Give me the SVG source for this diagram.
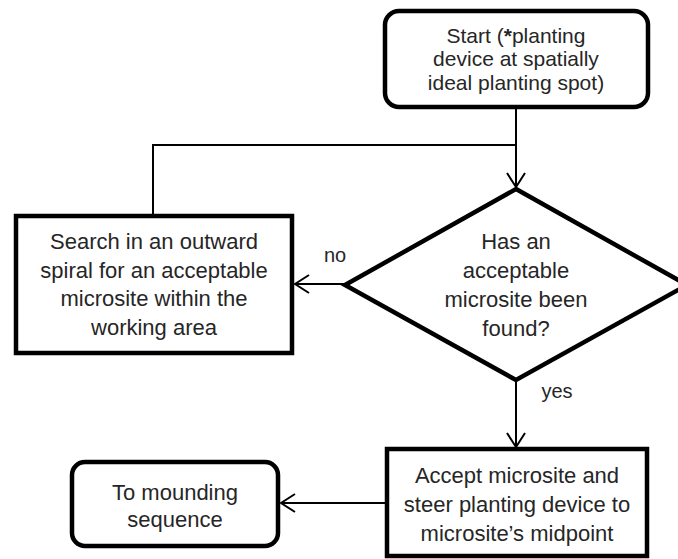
<svg xmlns="http://www.w3.org/2000/svg" width="678" height="559" viewBox="0 0 678 559">
<defs>
<style>
.box{fill:#fff;stroke:#000;stroke-width:4.5}
.conn{fill:none;stroke:#000;stroke-width:2}
text{font-family:"Liberation Sans",Arial,sans-serif;font-size:22px;fill:#262626;text-anchor:middle}
.lbl{font-size:20px}
.sm{font-size:21px}
</style>
<marker id="arr" viewBox="0 0 16 20" refX="15" refY="10" markerWidth="16" markerHeight="20" markerUnits="userSpaceOnUse" orient="auto">
<path d="M1,1 L15,10 L1,19" fill="none" stroke="#000" stroke-width="2"/>
</marker>
</defs>
<rect width="678" height="559" fill="#fff"/>
<g id="connectors">
<line class="conn" x1="516" y1="107" x2="516" y2="187" marker-end="url(#arr)"/>
<polyline class="conn" points="516,145 153,145 153,214"/>
<line class="conn" x1="345" y1="284" x2="295" y2="284" marker-end="url(#arr)"/>
<line class="conn" x1="516" y1="380" x2="516" y2="447" marker-end="url(#arr)"/>
<line class="conn" x1="386" y1="503" x2="281" y2="503" marker-end="url(#arr)"/>
<text class="lbl" x="335" y="262">no</text>
<text class="lbl" x="557" y="398">yes</text>
</g>
<g id="start">
<rect class="box" x="385" y="11" width="263" height="96" rx="14"/>
<text class="sm" x="516" y="42.5">Start (<tspan font-weight="bold">*</tspan>planting</text>
<text class="sm" x="516" y="66">device at spatially</text>
<text class="sm" x="516" y="89.5">ideal planting spot)</text>
</g>
<g id="decision">
<polygon class="box" points="516,189 687,285 516,380 345,285"/>
<text x="516" y="249">Has an</text>
<text x="516" y="278">acceptable</text>
<text x="516" y="307">microsite been</text>
<text x="516" y="336">found?</text>
</g>
<g id="search">
<rect class="box" x="16" y="216" width="276" height="137"/>
<text x="154" y="249">Search in an outward</text>
<text x="154" y="278">spiral for an acceptable</text>
<text x="154" y="306">microsite within the</text>
<text x="154" y="335">working area</text>
</g>
<g id="accept">
<rect class="box" x="387" y="449" width="260" height="107"/>
<text x="517" y="483">Accept microsite and</text>
<text x="517" y="512">steer planting device to</text>
<text x="517" y="541">microsite’s midpoint</text>
</g>
<g id="mounding">
<rect class="box" x="72" y="462" width="206" height="84" rx="13"/>
<text x="175" y="500">To mounding</text>
<text x="175" y="527">sequence</text>
</g>
</svg>
